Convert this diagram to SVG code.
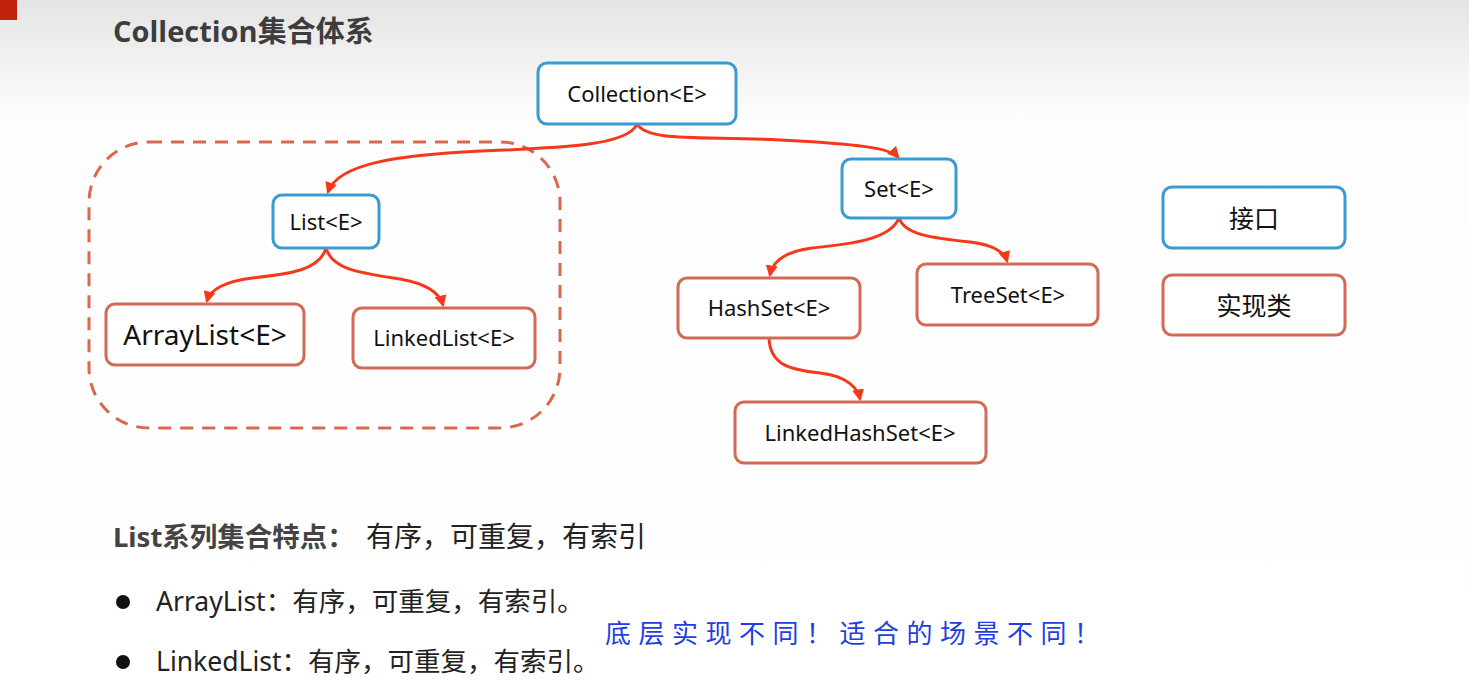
<svg xmlns="http://www.w3.org/2000/svg" width="1469" height="688" viewBox="0 0 1469 688">
<defs>
<linearGradient id="bg" x1="0" y1="0" x2="0" y2="1">
<stop offset="0" stop-color="#e4e4e4"/>
<stop offset="0.17" stop-color="#fdfdfd"/>
<stop offset="1" stop-color="#ffffff"/>
</linearGradient>
<marker id="arr" viewBox="0 0 10 10" refX="8" refY="5" markerWidth="4" markerHeight="4" orient="auto-start-reverse" markerUnits="strokeWidth">
<path d="M0,0 L10,5 L0,10 z" fill="#f5381a"/>
</marker>
</defs>
<style>
.iface{fill:#fff;stroke:#3a9bd0;stroke-width:3}
.impl{fill:#fff;stroke:#d26a55;stroke-width:3}
.lbl{font-family:"Noto Sans","Open Sans",sans-serif;font-size:22px;fill:#111;text-anchor:middle;dominant-baseline:central}
.cjk{font-family:"Noto Sans CJK SC",sans-serif;font-size:25px;fill:#111;text-anchor:middle;dominant-baseline:central}
.conn path{fill:none;stroke:#f5381a;stroke-width:3;marker-end:url(#arr)}
.body{font-family:"Noto Sans","Noto Sans CJK SC",sans-serif;font-size:26.5px;fill:#222}
</style>
<rect x="0" y="0" width="1469" height="688" fill="url(#bg)"/>
<rect x="0" y="0" width="17" height="20" fill="#c0220e"/>
<text x="113" y="42" font-family="Open Sans,Noto Sans CJK SC,sans-serif" font-weight="bold" font-size="29" fill="#3d3d3d">Collection集合体系</text>

<rect id="list-group" x="89" y="142" width="471" height="286" rx="60" fill="none" stroke="#d9684f" stroke-width="3" stroke-dasharray="13 9"/>

<g id="connectors" class="conn">
<path d="M637,124 C628,146 560,148 480,151 C400,155 338,163 328,192"/>
<path d="M637,124 C648,142 700,136 780,140 C858,144 890,148 898,157"/>
<path d="M326,248 C320,270 290,274 252,278 C222,282 210,290 207,301"/>
<path d="M326,248 C332,270 362,273 400,279 C428,284 440,294 443,305"/>
<path d="M899,218 C890,240 850,244 812,248 C782,252 772,264 770,275"/>
<path d="M899,218 C905,235 932,238 970,242 C996,245 1005,254 1007,261"/>
<path d="M769,338 C770,366 792,370 820,373 C848,376 858,389 860,399"/>
</g>

<g id="n-collection"><rect class="iface" x="538" y="63" width="198" height="61" rx="9"/><text class="lbl" x="637" y="93">Collection&lt;E&gt;</text></g>
<g id="n-list"><rect class="iface" x="273" y="195" width="106" height="53" rx="9"/><text class="lbl" x="326" y="221">List&lt;E&gt;</text></g>
<g id="n-set"><rect class="iface" x="842" y="159" width="114" height="59" rx="9"/><text class="lbl" x="899" y="188">Set&lt;E&gt;</text></g>
<g id="n-arraylist"><rect class="impl" x="106" y="304" width="198" height="61" rx="9"/><text class="lbl" x="205" y="334" style="font-size:28px">ArrayList&lt;E&gt;</text></g>
<g id="n-linkedlist"><rect class="impl" x="353" y="308" width="182" height="60" rx="9"/><text class="lbl" x="444" y="337">LinkedList&lt;E&gt;</text></g>
<g id="n-hashset"><rect class="impl" x="678" y="278" width="182" height="60" rx="9"/><text class="lbl" x="769" y="307">HashSet&lt;E&gt;</text></g>
<g id="n-treeset"><rect class="impl" x="917" y="264" width="181" height="61" rx="9"/><text class="lbl" x="1008" y="294">TreeSet&lt;E&gt;</text></g>
<g id="n-linkedhashset"><rect class="impl" x="735" y="402" width="251" height="61" rx="9"/><text class="lbl" x="860" y="432">LinkedHashSet&lt;E&gt;</text></g>
<g id="legend-iface"><rect class="iface" x="1163" y="187" width="182" height="61" rx="9"/><text class="cjk" x="1254" y="217">接口</text></g>
<g id="legend-impl"><rect class="impl" x="1163" y="275" width="182" height="60" rx="9"/><text class="cjk" x="1254" y="304">实现类</text></g>

<text x="113" y="547" class="body"><tspan font-weight="bold" fill="#444" font-size="27.5">List系列集合特点：</tspan><tspan x="366" font-size="28">有序，可重复，有索引</tspan></text>
<circle cx="123" cy="602" r="7" fill="#111"/>
<text x="156" y="611" class="body">ArrayList：有序，可重复，有索引。</text>
<circle cx="123" cy="662" r="7" fill="#111"/>
<text x="156" y="671" class="body">LinkedList：有序，可重复，有索引。</text>
<text x="605" y="643" font-family="Noto Sans CJK SC,sans-serif" font-size="26" letter-spacing="7.5" fill="#1f3fe0">底层实现不同！适合的场景不同！</text>
</svg>
